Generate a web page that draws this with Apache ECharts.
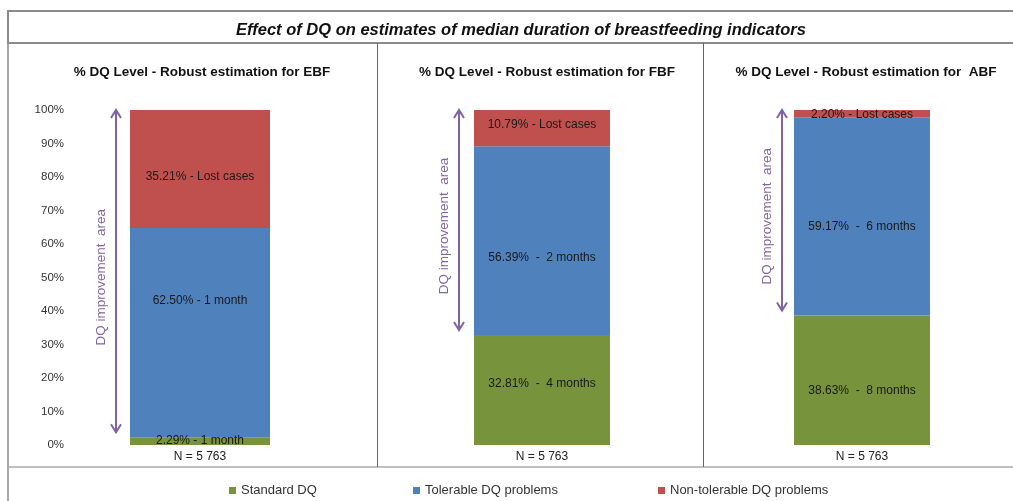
<!DOCTYPE html>
<html>
<head>
<meta charset="utf-8">
<script src="https://cdn.jsdelivr.net/npm/echarts@6/dist/echarts.min.js"></script>
<style>
html,body{margin:0;padding:0;background:#fff;}
#chart{width:1013px;height:501px;}
</style>
</head>
<body>
<div id="chart"></div>
<script>
// ---- data ----
const mainTitle = 'Effect of DQ on estimates of median duration of breastfeeding indicators';
const panelTitles = ['% DQ Level - Robust estimation for EBF', '% DQ Level - Robust estimation for FBF', '% DQ Level - Robust estimation for  ABF'];
const categories = ['N = 5 763'];
const seriesNames = ['Standard DQ', 'Tolerable DQ problems', 'Non-tolerable DQ problems'];
const standardDQ = [2.29, 32.81, 38.63];
const tolerableDQ = [62.50, 56.39, 59.17];
const nonTolerableDQ = [35.21, 10.79, 2.20];
const standardLabels = ['2.29% - 1 month', '32.81%  -  4 months', '38.63%  -  8 months'];
const tolerableLabels = ['62.50% - 1 month', '56.39%  -  2 months', '59.17%  -  6 months'];
const lostLabels = ['35.21% - Lost cases', '10.79% - Lost cases', '2.20% - Lost cases'];
const arrowText = 'DQ improvement  area';
const yMin = 0, yMax = 100, yInterval = 10;

// ---- layout / style ----
const colors = ['#77933C', '#4F81BD', '#C0504D'];
const FONT = 'Liberation Sans, Arial, sans-serif';
const gridLefts = [130, 474, 794];
const gridWidths = [140, 136, 136];
const arrowOffsets = [14, 15, 12];
const panelCenters = [197, 542, 861];
const legendLefts = [229, 413, 658];
// label vertical nudges [panel][series]
const labelNudges = [[0, -32, 8], [-6, 17, -3], [10, 10, 1]];

const chart = echarts.init(document.getElementById('chart'), null, {renderer: 'canvas'});

const grids = [], xAxes = [], yAxes = [], series = [];
const valueSets = [standardDQ, tolerableDQ, nonTolerableDQ];
const labelSets = [standardLabels, tolerableLabels, lostLabels];
for (let i = 0; i < 3; i++) {
  grids.push({left: gridLefts[i], width: gridWidths[i], top: 110, bottom: 56, containLabel: false});
  xAxes.push({
    type: 'category', gridIndex: i, data: categories,
    axisLine: {show: false}, axisTick: {show: false},
    axisLabel: {fontFamily: FONT, fontSize: 12, color: '#222', margin: 6}
  });
  yAxes.push({
    type: 'value', gridIndex: i, min: yMin, max: yMax, interval: yInterval,
    show: i === 0,
    axisLine: {show: false}, axisTick: {show: false}, splitLine: {show: false},
    axisLabel: {show: i === 0, formatter: v => v + '%', fontFamily: FONT, fontSize: 11.5, color: '#333', margin: 66, align: 'right'}
  });
  for (let s = 0; s < 3; s++) {
    const lbl = labelSets[s][i];
    series.push({
      name: seriesNames[s], type: 'bar', stack: 'p' + i,
      xAxisIndex: i, yAxisIndex: i, barWidth: '100%',
      itemStyle: {color: colors[s]},
      label: {show: true, position: 'inside', offset: [0, labelNudges[i][s]], formatter: () => lbl, fontFamily: FONT, fontSize: 12, color: '#1a1a1a'},
      silent: true,
      data: [valueSets[s][i]]
    });
  }
}

const titles = [{
  text: mainTitle, left: 516, top: 17, textAlign: 'center',
  textStyle: {fontFamily: FONT, fontSize: 16.5, fontWeight: 'bold', fontStyle: 'italic', color: '#111'}
}];
for (let i = 0; i < 3; i++) {
  titles.push({
    text: panelTitles[i], left: panelCenters[i], top: 60, textAlign: 'center',
    textStyle: {fontFamily: FONT, fontSize: 13.5, fontWeight: 'bold', color: '#111'}
  });
}

const legends = seriesNames.map((n, k) => ({
  data: [n], left: legendLefts[k], top: 484, padding: 0, itemWidth: 7, itemHeight: 7, icon: 'rect',
  textStyle: {fontFamily: FONT, fontSize: 13, color: '#333'}, selectedMode: false
}));

chart.setOption({
  animation: false,
  title: titles,
  legend: legends,
  grid: grids, xAxis: xAxes, yAxis: yAxes, series: series
});

// ---- frame + arrows ----
const frameColor = '#8c8c8c';
const graphics = [
  {type: 'rect', shape: {x: 8, y: 11, width: 1010, height: 32}, style: {fill: null, stroke: frameColor, lineWidth: 2}, silent: true},
  {type: 'line', shape: {x1: 8, y1: 43, x2: 8, y2: 501}, style: {stroke: frameColor, lineWidth: 1.5}, silent: true},
  {type: 'line', shape: {x1: 8, y1: 467, x2: 1013, y2: 467}, style: {stroke: '#aaaaaa', lineWidth: 1.5}, silent: true},
  {type: 'line', shape: {x1: 377.5, y1: 43, x2: 377.5, y2: 467}, style: {stroke: '#666', lineWidth: 1}, silent: true},
  {type: 'line', shape: {x1: 703.5, y1: 43, x2: 703.5, y2: 467}, style: {stroke: '#666', lineWidth: 1}, silent: true}
];
const purple = '#8064A2';
for (let i = 0; i < 3; i++) {
  const x = gridLefts[i] - arrowOffsets[i];
  const yTop = chart.convertToPixel({yAxisIndex: i}, yMax);
  const yBot = chart.convertToPixel({yAxisIndex: i}, standardDQ[i] + 1.5);
  graphics.push({type: 'line', shape: {x1: x, y1: yTop, x2: x, y2: yBot}, style: {stroke: purple, lineWidth: 2}, silent: true});
  graphics.push({type: 'polyline', shape: {points: [[x - 5, yTop + 8], [x, yTop], [x + 5, yTop + 8]]}, style: {stroke: purple, lineWidth: 2, fill: null}, silent: true});
  graphics.push({type: 'polyline', shape: {points: [[x - 5, yBot - 8], [x, yBot], [x + 5, yBot - 8]]}, style: {stroke: purple, lineWidth: 2, fill: null}, silent: true});
  graphics.push({
    type: 'text', x: x - 15, y: (yTop + yBot) / 2 + 6, rotation: Math.PI / 2,
    style: {text: arrowText, fill: purple, font: '13.5px ' + FONT, textAlign: 'center', textVerticalAlign: 'middle'},
    silent: true
  });
}
chart.setOption({graphic: graphics});
</script>
</body>
</html>
